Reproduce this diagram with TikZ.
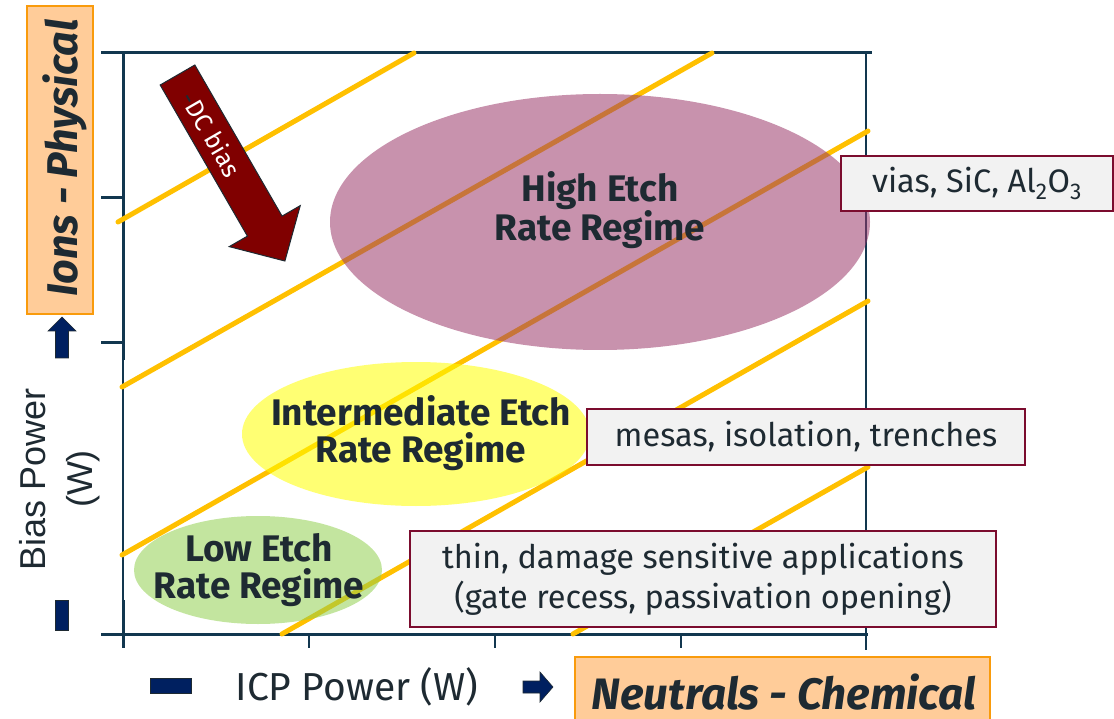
\documentclass[tikz,border=0pt]{standalone}
\usepackage{fontspec}
\setmainfont{Fira Sans}
\newfontfamily\arialfont{Liberation Sans}
\usetikzlibrary{shapes.geometric}

\definecolor{axisblue}{HTML}{12374F}
\definecolor{gold}{HTML}{FFC000}
\definecolor{txt}{HTML}{1E2A32}
\definecolor{peach}{HTML}{FFCC99}
\definecolor{orangeedge}{HTML}{F99B0C}
\definecolor{boxfill}{HTML}{F2F2F2}
\definecolor{boxedge}{HTML}{7B0C2E}
\definecolor{navy}{HTML}{002060}
\definecolor{dcred}{HTML}{800000}
\definecolor{highc}{HTML}{9A3869}
\definecolor{midc}{HTML}{FFFF00}
\definecolor{lowc}{HTML}{92D050}

\tikzset{
  axisthick/.style={draw=axisblue, line width=3pt},
  axisthin/.style={draw=axisblue, line width=1.7pt},
  rateline/.style={draw=gold, line width=5pt, line cap=round},
  regime/.style={ellipse, inner sep=0pt, fill opacity=0.55},
  regimetext/.style={text=txt, font=\fontsize{37}{37}\selectfont\bfseries, align=center},
  appbox/.style={draw=boxedge, line width=1.8pt, fill=boxfill, text=txt,
    font=\fontsize{32.5}{40}\selectfont, align=center, inner sep=0pt},
  sidebox/.style={draw=orangeedge, line width=2pt, fill=peach},
  navyshape/.style={fill=navy, draw=txt, line width=0.6pt}
}

\begin{document}
\begin{tikzpicture}[x=1pt, y=-1pt]
\useasboundingbox (0,0) rectangle (1114,719);

% chart frame and ticks
\draw[axisthick] (101,53) -- (872,53);
\draw[axisthick] (123,53) -- (123,360);
\draw[axisthin] (123,360) -- (123,600);
\draw[axisthick] (123,600) -- (123,648);
\draw[axisthick] (101,198) -- (123,198);
\draw[axisthick] (101,343) -- (123,343);
\draw[axisthick] (101,634) -- (868,634);
\draw[axisthin] (309,634) -- (309,648);
\draw[axisthin] (495,634) -- (495,648);
\draw[axisthin] (681,634) -- (681,648);
\draw[axisthin] (866,53) -- (866,650);

% iso-rate lines
\draw[rateline] (118,222) -- (414,53);
\draw[rateline] (122,387) -- (712,53);
\draw[rateline] (122,555) -- (868,131);
\draw[rateline] (282,634) -- (868,301);
\draw[rateline] (573,634) -- (868,467);

% regime areas
\node[regime, fill=highc, minimum width=540pt, minimum height=256pt] (high) at (600,222) {};
\node[regime, fill=midc, minimum width=348pt, minimum height=144pt] (mid) at (416,434) {};
\node[regime, fill=lowc, minimum width=248pt, minimum height=108pt] (low) at (258,570) {};

\node[regimetext] (hightext) at (600,210) {High Etch\\Rate Regime};
\node[regimetext] (midtext) at (421,433) {Intermediate Etch\\Rate Regime};
\node[regimetext] (lowtext) at (259,570) {Low Etch\\Rate Regime};

% application boxes
\node[appbox, minimum width=272pt, minimum height=55pt] (vias) at (977,183.5)
  {vias, SiC, Al\textsubscript{2}O\textsubscript{3}};
\node[appbox, minimum width=438pt, minimum height=56pt] (mesas) at (806,437)
  {mesas, isolation, trenches};
\node[appbox, minimum width=586pt, minimum height=96pt] (thin) at (703,579)
  {thin, damage sensitive applications\\(gate recess, passivation opening)};

% DC bias arrow
\coordinate (dctail) at (177.5,75);
\begin{scope}[shift={(dctail)}, rotate=-60]
  \filldraw[fill=dcred, draw=txt, line width=1pt]
    (0,-20) -- (174.5,-20) -- (174.5,-41) -- (214.8,0) -- (174.5,41) -- (174.5,20) -- (0,20) -- cycle;
  \node[text=white, font=\fontsize{25}{28}\selectfont, anchor=center, transform shape] (dclabel) at (68,0)
    {{\color{txt}-}DC bias};
\end{scope}

% vertical axis title and direction marks
\node[sidebox, minimum width=66pt, minimum height=308pt, inner sep=0pt] (ions) at (60,160) {};
\node[rotate=90, text=txt, anchor=base, font=\fontsize{43}{48}\selectfont\bfseries\itshape] (ionstext) at (77,158)
  {Ions - Physical};
\filldraw[navyshape] (55.5,358) -- (55.5,331) -- (48,331) -- (62,317) -- (76,331) -- (68.5,331) -- (68.5,358) -- cycle;
\filldraw[navyshape] (55,600) rectangle (68,630);
\node[rotate=90, text=txt, align=center, font=\arialfont\fontsize{36}{47}\selectfont] (biastitle) at (60,479)
  {Bias Power\\(W)};

% horizontal axis title and direction marks
\filldraw[navyshape] (150,678) rectangle (191,693);
\node[text=txt, anchor=base, font=\fontsize{39}{40}\selectfont] (icptitle) at (357,700) {ICP Power (W)};
\filldraw[navyshape] (523,681) -- (540,681) -- (540,672) -- (553,687) -- (540,702) -- (540,693) -- (523,693) -- cycle;
\node[sidebox, minimum width=415pt, minimum height=64pt, inner sep=0pt] (neutrals) at (782.5,689) {};
\node[text=txt, anchor=base, font=\fontsize{44}{46}\selectfont\bfseries\itshape] (neutralstext) at (784,709)
  {Neutrals - Chemical};
\end{tikzpicture}
\end{document}
